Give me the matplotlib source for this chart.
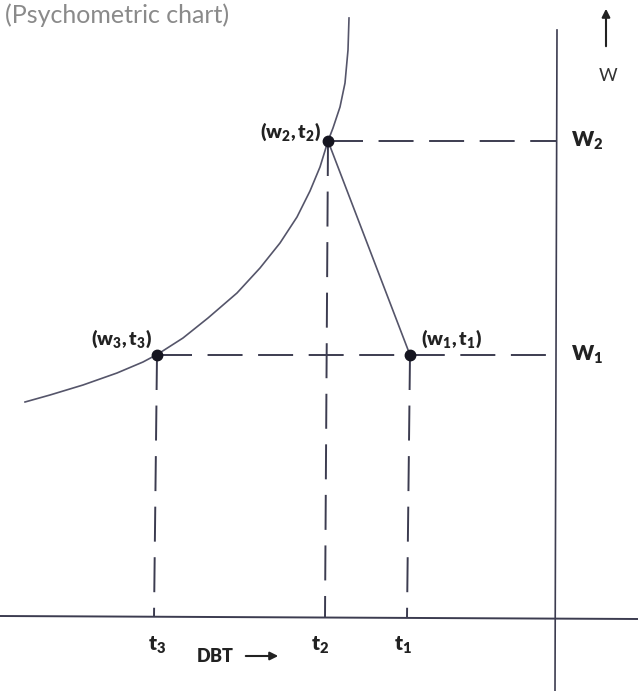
import matplotlib
matplotlib.use('Agg')
import matplotlib.pyplot as plt

plt.rcParams['font.family'] = ['Lato', 'DejaVu Sans']
plt.rcParams['mathtext.fontset'] = 'custom'
plt.rcParams['mathtext.rm'] = 'Lato:bold'
plt.rcParams['mathtext.bf'] = 'Lato:heavy'
plt.rcParams['mathtext.it'] = 'Lato:bold'

# ===== data (chart units, y grows downward like the scan) =====
T3, T2, T1 = 157, 328, 410          # DBT positions
W2, W1 = 141, 355                   # humidity ratio positions
AXIS_Y = 617                        # DBT axis
W_AXIS_X = 556                      # W axis

# saturation curve
sat_x = [25, 50, 83, 117, 143, 158, 183, 208, 237, 260, 280, 297, 310, 320, 328, 333, 340, 345, 348, 349]
sat_y = [402, 395, 385, 373, 362, 354, 338, 318, 293, 268, 243, 217, 191, 167, 141, 128, 107, 83, 50, 18]

point_x = [T2, T3, T1]
point_y = [W2, W1, W1]
point_labels = [r'$\mathbf{(w_2,t_2)}$', r'$\mathbf{(w_3,t_3)}$', r'$\mathbf{(w_1,t_1)}$']

t_labels = [r'$\mathbf{t_3}$', r'$\mathbf{t_2}$', r'$\mathbf{t_1}$']
w_labels = [r'$\mathbf{W_2}$', r'$\mathbf{W_1}$']

LINE = '#3c3c50'
DASH = (0, (18, 8))

fig = plt.figure(figsize=(6.38, 6.91), dpi=100)
ax = fig.add_axes([0, 0, 1, 1])
ax.set_xlim(0, 638)
ax.set_ylim(691, 0)
ax.axis('off')

# axes of the chart
ax.plot([0, 638], [AXIS_Y - 1, AXIS_Y + 2], color=LINE, lw=1.4)
ax.plot([W_AXIS_X + 1, W_AXIS_X - 1], [30, 691], color=LINE, lw=1.2)

# saturation curve
ax.plot(sat_x, sat_y, color='#55556a', lw=1.2)

# dashed construction lines
ax.plot([T2, W_AXIS_X], [W2, W2], color=LINE, lw=1.4, ls=DASH)
ax.plot([T3, W_AXIS_X], [W1, W1], color=LINE, lw=1.4, ls=DASH)
for tx in [T3, T2, T1]:
    wy = W2 if tx == T2 else W1
    ax.plot([tx, tx - 3], [wy, AXIS_Y], color=LINE, lw=1.4, ls=DASH)

# process line 2 -> 1
ax.plot([T2, T1], [W2, W1], color='#55556a', lw=1.2)

# state points
ax.plot(point_x, point_y, 'o', color='#151520', ms=7.5)
ax.text(T2 - 7, W2 + 2, point_labels[0], ha='right', va='bottom', fontsize=14, color='#222')
ax.text(T3 - 5, W1 - 5, point_labels[1], ha='right', va='bottom', fontsize=14, color='#222')
ax.text(T1 + 11, W1 - 5, point_labels[2], ha='left', va='bottom', fontsize=14, color='#222')

# axis labels
for tx, lab in zip([T3, T2 - 8, T1 - 7], t_labels):
    ax.text(tx, 645, lab, ha='center', va='center', fontsize=15, color='#222')
ax.text(215, 656, r'$\mathbf{DBT}$', ha='center', va='center', fontsize=13, color='#222')
ax.annotate('', xy=(281, 656), xytext=(243, 656),
            arrowprops=dict(arrowstyle='-|>', color='#222', lw=1.5, mutation_scale=12))

for wy, lab in zip([W2, W1], w_labels):
    ax.text(571, wy, lab, ha='left', va='center', fontsize=15, color='#222')
ax.annotate('', xy=(606, 6), xytext=(606, 49),
            arrowprops=dict(arrowstyle='-|>', color='#222', lw=1.5, mutation_scale=12))
ax.text(608, 76, 'W', ha='center', va='center', fontsize=13, color='#333')

# caption at the top of the scan
ax.text(5, 23, '(Psychometric chart)', ha='left', va='baseline', fontsize=18, color='#8a8a8a')

fig.savefig('out.png', dpi=100, facecolor='white')
